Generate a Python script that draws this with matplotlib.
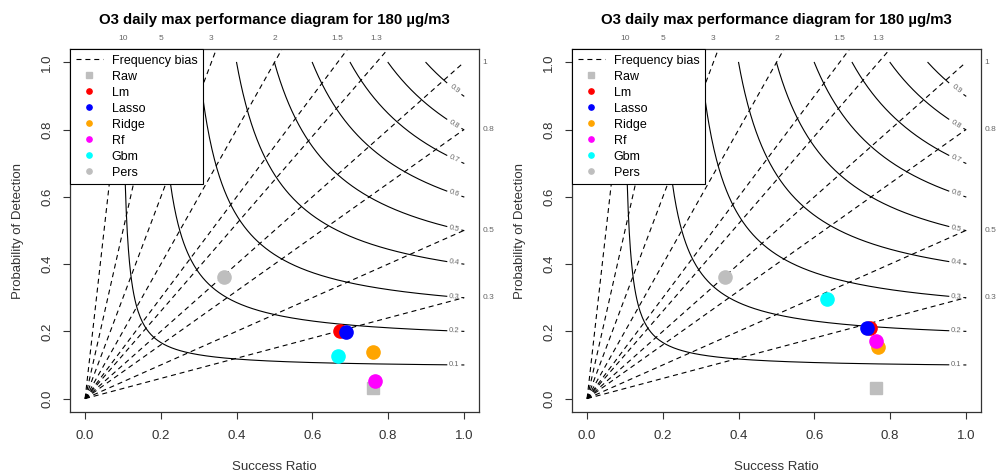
import numpy as np
import matplotlib
matplotlib.use('Agg')
import matplotlib.pyplot as plt
from matplotlib.lines import Line2D

plt.rcParams['font.family'] = ['Liberation Sans', 'DejaVu Sans']

# Tekster og data lest av figuren
TITLE = "O3 daily max performance diagram for 180 µg/m3"
models = ["Raw", "Lm", "Lasso", "Ridge", "Rf", "Gbm", "Pers"]
colours = ["#bebebe", "#ff0000", "#0000ff", "#ffa500", "#ff00ff", "#00ffff", "#bebebe"]
markers = ["s", "o", "o", "o", "o", "o", "o"]

# venstre panel
sr_left = [0.760, 0.674, 0.690, 0.761, 0.765, 0.668, 0.367]
pod_left = [0.030, 0.202, 0.197, 0.138, 0.052, 0.126, 0.363]
# hoyre panel
sr_right = [0.764, 0.746, 0.739, 0.767, 0.764, 0.634, 0.363]
pod_right = [0.032, 0.210, 0.210, 0.153, 0.170, 0.295, 0.361]

bias_levels = [0.3, 0.5, 0.8, 1, 1.3, 1.5, 2, 3, 5, 10]
csi_levels = [0.1, 0.2, 0.3, 0.4, 0.5, 0.6, 0.7, 0.8, 0.9]
ticks = [0.0, 0.2, 0.4, 0.6, 0.8, 1.0]

DARK = "#333333"
GREY = "#666666"


def csi_pod(c, sr):
    return 1.0 / (1.0 / c - 1.0 / sr + 1.0)


def draw_panel(ax, sr, pod):
    ax.set_xlim(-0.04, 1.04)
    ax.set_ylim(-0.04, 1.04)

    # frekvens-bias linjer (stiplet)
    for b in bias_levels:
        ax.plot([0, 1], [0, b], color="black", lw=0.8, ls=(0, (4.5, 3.5)), zorder=2)
        if b > 1:
            ax.text(1 / b, 1.072, f"{b:g}", ha="center", va="center",
                    fontsize=6, color=GREY, clip_on=False)
        else:
            ax.text(1.05, b, f"{b:g}", ha="left", va="center",
                    fontsize=6, color=GREY, clip_on=False)

    # CSI konturer (heltrukket)
    for c in csi_levels:
        x = np.linspace(c, 0.955, 300)
        ax.plot(x, csi_pod(c, x), color="black", lw=0.8, zorder=2)
        x2 = np.linspace(0.995, 1.0, 5)
        ax.plot(x2, csi_pod(c, x2), color="black", lw=0.8, zorder=2)
        xl = 0.975
        yl = csi_pod(c, xl)
        slope = -yl ** 2 / xl ** 2
        ax.text(xl, yl, f"{c:g}", ha="center", va="center", fontsize=5.5,
                color=GREY, rotation=np.degrees(np.arctan(slope)),
                transform_rotates_text=True, rotation_mode="anchor", zorder=3)

    # modellpunkter
    for name, col, mk, x, y in zip(models, colours, markers, sr, pod):
        ax.plot(x, y, marker=mk, color=col, ms=9 if mk == "s" else 9.5,
                ls="none", zorder=4)

    ax.set_xticks(ticks)
    ax.set_xticklabels([f"{t:.1f}" for t in ticks])
    ax.set_yticks(ticks)
    ax.set_yticklabels([f"{t:.1f}" for t in ticks], rotation=90, va="center")
    ax.tick_params(axis="both", length=5, width=0.8, color=DARK,
                   labelsize=9.5, labelcolor=DARK)
    ax.tick_params(axis="x", pad=8)
    ax.tick_params(axis="y", pad=7)
    for sp in ax.spines.values():
        sp.set_color(DARK)
        sp.set_linewidth(0.9)

    ax.set_xlabel("Success Ratio", fontsize=9.5, color=DARK)
    ax.set_ylabel("Probability of Detection", fontsize=9.5, color=DARK)
    ax.xaxis.set_label_coords(0.5, -0.1515)
    ax.xaxis.label.set_va("center")
    ax.yaxis.set_label_coords(-0.127, 0.5)
    ax.yaxis.label.set_va("center")
    ax.set_title(TITLE, fontsize=10.8, fontweight="bold", pad=18)

    handles = [Line2D([], [], color="black", lw=0.8, ls=(0, (4.5, 3.5)))]
    for col, mk in zip(colours, markers):
        handles.append(Line2D([], [], color=col, marker=mk, ls="none", ms=3.8))
    leg = ax.legend(handles, ["Frequency bias"] + models, loc="upper left",
                    borderaxespad=0, fancybox=False, framealpha=1,
                    edgecolor="black", fontsize=9, labelspacing=0.32,
                    handlelength=2.2, handletextpad=0.7, borderpad=0.45)
    leg.get_frame().set_linewidth(0.8)
    leg.set_zorder(5)


fig = plt.figure(figsize=(9.98, 4.75), dpi=100)
ax1 = fig.add_axes([0.0701, 0.1326, 0.4098, 0.7642])
ax2 = fig.add_axes([0.5731, 0.1326, 0.4098, 0.7642])
draw_panel(ax1, sr_left, pod_left)
draw_panel(ax2, sr_right, pod_right)

fig.savefig("out.png", dpi=100)
